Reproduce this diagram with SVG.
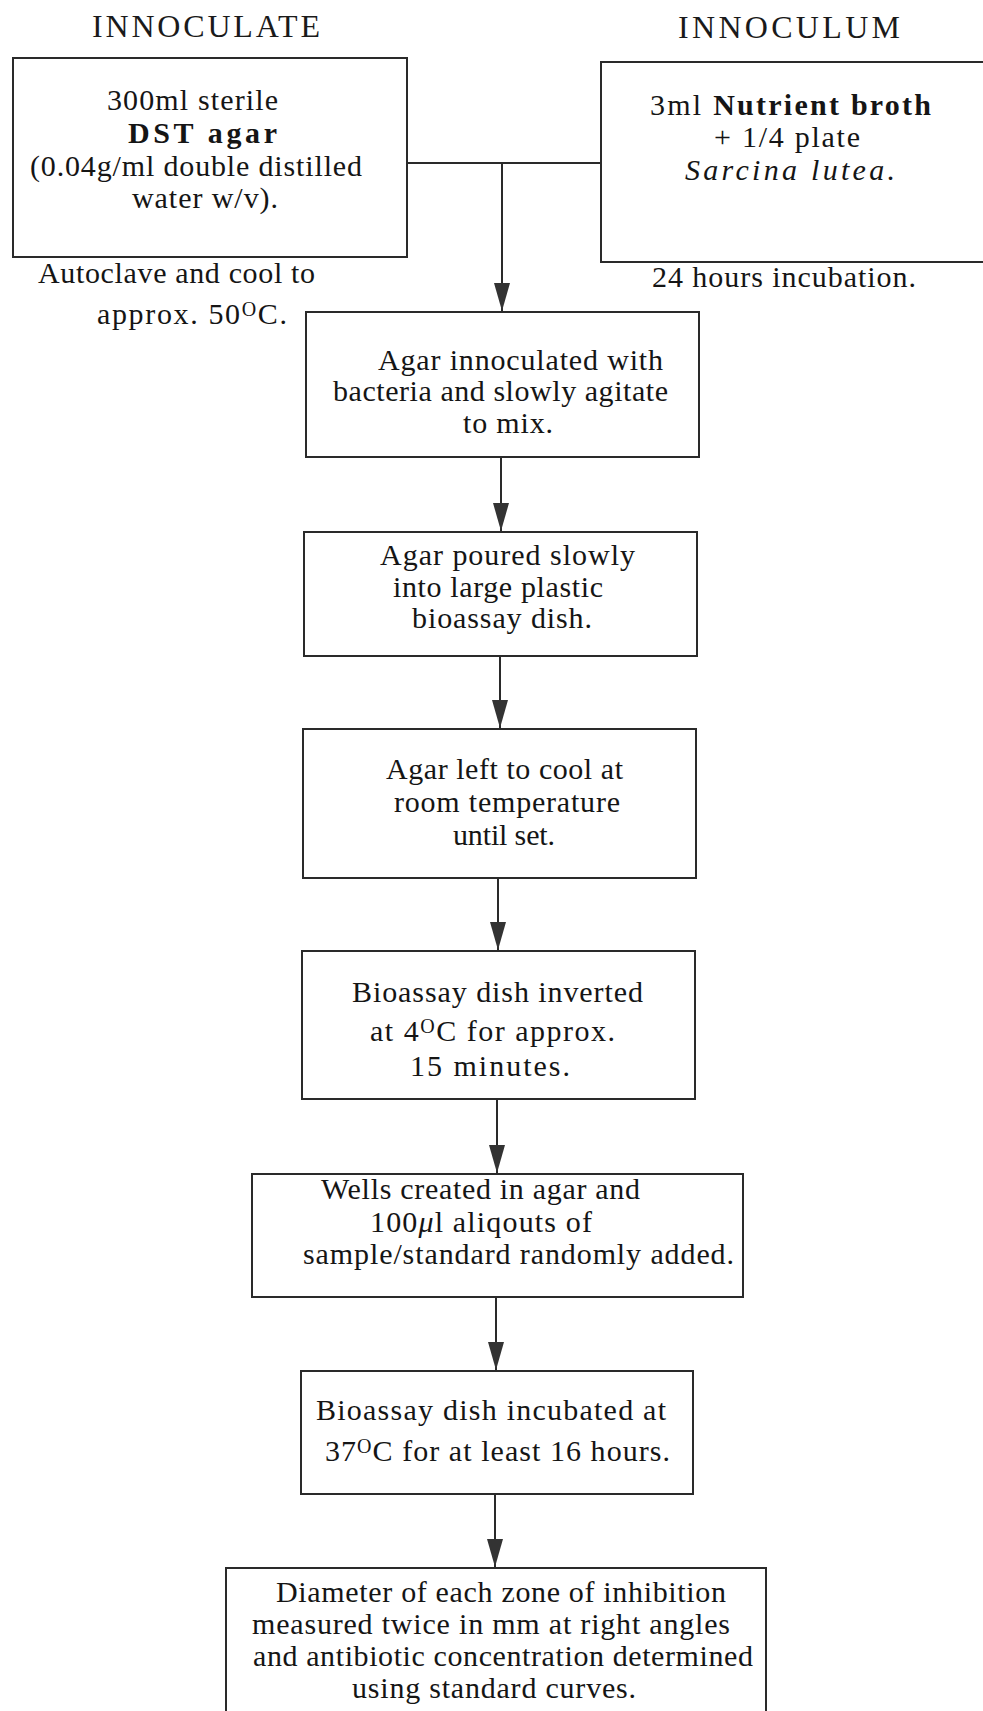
<svg xmlns="http://www.w3.org/2000/svg" width="983" height="1711" viewBox="0 0 983 1711">
<defs>
<style>
.box{fill:#fff;stroke:#2a2a2a;stroke-width:2}
.t{font-family:"Liberation Serif","Times New Roman",serif;font-size:30px;fill:#151515}
.ttl{font-family:"Liberation Serif","Times New Roman",serif;font-size:32px;fill:#1a1a1a}
.b{font-weight:bold}
.i{font-style:italic}
.sup{font-size:20px}
.con{fill:none;stroke:#2a2a2a;stroke-width:2}
</style>
<marker id="ah" viewBox="0 0 28 16" refX="28" refY="8" markerWidth="28" markerHeight="16" markerUnits="userSpaceOnUse" orient="auto">
<path d="M0,0 L28,8 L0,16 Z" fill="#333"/>
</marker>
</defs>
<rect width="983" height="1711" fill="#fff"/>

<g id="titles">
<text class="ttl" x="92" y="37" textLength="228" lengthAdjust="spacing">INNOCULATE</text>
<text class="ttl" x="678" y="38" textLength="222" lengthAdjust="spacing">INNOCULUM</text>
</g>

<g id="connectors">
<path class="con" d="M407,163 H601"/>
<path class="con" d="M502,163 V311" marker-end="url(#ah)"/>
<path class="con" d="M501,457 V531" marker-end="url(#ah)"/>
<path class="con" d="M500,656 V728" marker-end="url(#ah)"/>
<path class="con" d="M498,878 V950" marker-end="url(#ah)"/>
<path class="con" d="M497,1099 V1173" marker-end="url(#ah)"/>
<path class="con" d="M496,1297 V1370" marker-end="url(#ah)"/>
<path class="con" d="M495,1494 V1567" marker-end="url(#ah)"/>
</g>

<g id="dst-agar">
<rect class="box" x="13" y="58" width="394" height="199"/>
<text class="t" x="107" y="110" textLength="171" lengthAdjust="spacing">300ml sterile</text>
<text class="t b" x="128" y="143" textLength="149" lengthAdjust="spacing">DST  agar</text>
<text class="t" x="30" y="176" textLength="332" lengthAdjust="spacing">(0.04g/ml double distilled</text>
<text class="t" x="132" y="208" textLength="146" lengthAdjust="spacing">water w/v).</text>
<text class="t" x="38" y="283" textLength="277" lengthAdjust="spacing">Autoclave and cool to</text>
<text class="t" x="97" y="324" textLength="190" lengthAdjust="spacing">approx. 50<tspan class="sup" dy="-8">O</tspan><tspan dy="8">C.</tspan></text>
</g>

<g id="nutrient-broth">
<rect class="box" x="601" y="62" width="420" height="200"/>
<text class="t" x="650" y="115" textLength="281" lengthAdjust="spacing">3ml <tspan class="b">Nutrient broth</tspan></text>
<text class="t" x="714" y="147" textLength="146" lengthAdjust="spacing">+ 1/4  plate</text>
<text class="t i" x="685" y="180" textLength="210" lengthAdjust="spacing">Sarcina  lutea.</text>
<text class="t" x="652" y="287" textLength="264" lengthAdjust="spacing">24 hours incubation.</text>
</g>

<g id="inoculate">
<rect class="box" x="306" y="312" width="393" height="145"/>
<text class="t" x="378" y="370" textLength="285" lengthAdjust="spacing">Agar innoculated with</text>
<text class="t" x="333" y="401" textLength="335" lengthAdjust="spacing">bacteria and slowly agitate</text>
<text class="t" x="463" y="433" textLength="90" lengthAdjust="spacing">to mix.</text>
</g>

<g id="pour">
<rect class="box" x="304" y="532" width="393" height="124"/>
<text class="t" x="380" y="565" textLength="255" lengthAdjust="spacing">Agar poured slowly</text>
<text class="t" x="393" y="597" textLength="210" lengthAdjust="spacing">into large plastic</text>
<text class="t" x="412" y="628" textLength="180" lengthAdjust="spacing">bioassay dish.</text>
</g>

<g id="cool">
<rect class="box" x="303" y="729" width="393" height="149"/>
<text class="t" x="386" y="779" textLength="237" lengthAdjust="spacing">Agar left to cool at</text>
<text class="t" x="394" y="812" textLength="226" lengthAdjust="spacing">room temperature</text>
<text class="t" x="453" y="845" textLength="102" lengthAdjust="spacing">until set.</text>
</g>

<g id="invert">
<rect class="box" x="302" y="951" width="393" height="148"/>
<text class="t" x="352" y="1002" textLength="291" lengthAdjust="spacing">Bioassay dish inverted</text>
<text class="t" x="370" y="1041" textLength="245" lengthAdjust="spacing">at  4<tspan class="sup" dy="-8">O</tspan><tspan dy="8">C for approx.</tspan></text>
<text class="t" x="410" y="1076" textLength="160" lengthAdjust="spacing">15 minutes.</text>
</g>

<g id="wells">
<rect class="box" x="252" y="1174" width="491" height="123"/>
<text class="t" x="321" y="1199" textLength="319" lengthAdjust="spacing">Wells created in agar and</text>
<text class="t" x="370" y="1232" textLength="222" lengthAdjust="spacing">100<tspan class="i">μ</tspan>l aliqouts of</text>
<text class="t" x="303" y="1264" textLength="431" lengthAdjust="spacing">sample/standard randomly added.</text>
</g>

<g id="incubate">
<rect class="box" x="301" y="1371" width="392" height="123"/>
<text class="t" x="316" y="1420" textLength="350" lengthAdjust="spacing">Bioassay dish  incubated at</text>
<text class="t" x="325" y="1461" textLength="345" lengthAdjust="spacing">37<tspan class="sup" dy="-8">O</tspan><tspan dy="8">C for at least 16 hours.</tspan></text>
</g>

<g id="measure">
<rect class="box" x="226" y="1568" width="540" height="200"/>
<text class="t" x="276" y="1602" textLength="450" lengthAdjust="spacing">Diameter of each zone of inhibition</text>
<text class="t" x="252" y="1634" textLength="478" lengthAdjust="spacing">measured twice in mm at right angles</text>
<text class="t" x="253" y="1666" textLength="500" lengthAdjust="spacing">and antibiotic concentration determined</text>
<text class="t" x="352" y="1698" textLength="284" lengthAdjust="spacing">using standard curves.</text>
</g>
</svg>
